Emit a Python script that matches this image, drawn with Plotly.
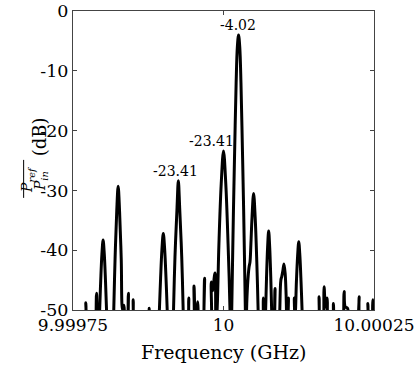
import plotly.graph_objects as go

# spectrum trace, offsets from 10 GHz in kHz, level in dB
freq_khz = [
    -250, -231, -228.7, -226.5, -219, -213.5, -210.9, -208.3,
    -205.7, -204, -202, -200, -198, -196, -194.3, -193, -188.5,
    -183.8, -182.3, -180.1, -177.4, -175, -172.6, -169.9, -167.7,
    -165.5, -163.5, -160.5, -158, -155.5, -152.3, -150, -147.8, -137,
    -125, -123.4, -121.8, -114,
    -107.8, -106.5, -104.5, -102.3, -100, -97.7, -95.5, -93.5, -92.2, -88.5,
    -84.6, -83, -80.6, -77.2, -75, -72.8, -69.4, -67, -65.4,
    -60, -57.7, -55.4, -51.5, -49, -46.3, -42.9, -40.6, -37,
    -34, -31.4, -28.8, -23, -20.3, -18.3, -14.1, -12.6,
    -10.6, -7.6, -3.8, 0, 3.8, 7.6, 10.8, 12.2,
    13.7, 16.5, 18.7, 21, 23, 25, 27, 29, 31.3, 33.5, 36.3, 37.3,
    38.6, 40.5, 42.5, 44, 45.5, 47.4, 50, 52.6, 55.3, 57.5, 59,
    64, 66.2, 68.3,
    70, 71.5, 73.25, 75, 76.75, 78.5, 80, 81.5,
    83.3, 85.6, 88,
    91.5, 93.5, 95.3, 96.8, 98.5, 100.5, 102.5, 104, 105.5,
    107.8, 110, 115.5, 117.7, 119.2,
    121.1, 123.1, 125, 126.9, 128.8, 130.5, 131.6, 140,
    156.5, 158.8, 161, 164.8, 167.1, 169.3, 172, 174.5,
    180.5, 182.6, 184.7, 191,
    197.8, 200.4, 202.3, 206, 207.5, 215,
    223, 225.3, 227.5, 237.5, 239.8, 241.5, 245.8, 248.1, 250,
]
level_db = [
    -60, -58, -48.8, -58, -62, -58, -47.2, -58,
    -50, -45.2, -40.7, -38.3, -40.7, -45.2, -50, -55, -62,
    -56.5, -50, -41.4, -33.6, -29.3, -33.6, -41.4, -50,
    -49.2, -57, -58, -47.2, -58, -58, -48.3, -58, -62,
    -58, -49.7, -58, -62,
    -54, -50, -44.7, -39.9, -37.2, -39.9, -44.7, -50, -54, -62,
    -56.8, -50, -41.1, -32.9, -28.4, -32.9, -41.1, -50, -56.8,
    -58, -48, -58, -58, -46, -55, -48.6, -58, -62,
    -58, -44.7, -58, -58, -45.3, -46.8, -43.8, -53,
    -50, -39, -28.9, -23.4, -28.9, -39, -50, -60,
    -50, -33.5, -22.5, -12, -6, -4, -6, -12, -22.5, -33.5, -50, -56,
    -49, -45, -42.8, -42, -39, -34.5, -30.5, -34.5, -41.9, -50, -57,
    -58, -48, -55,
    -50, -44.5, -39.5, -36.8, -39.5, -44.5, -50, -56,
    -58, -46.4, -58,
    -58, -50, -45, -44.4, -43.5, -42.3, -44, -47.5, -53,
    -48, -58, -58, -48, -50.5,
    -45.3, -41, -38.6, -41, -45.3, -50, -54, -62,
    -58, -47.8, -56, -57, -46.1, -49.5, -48, -57,
    -58, -48.9, -58, -62,
    -58, -46.9, -49.5, -49.7, -58, -62,
    -58, -47.8, -58, -58, -48.9, -56, -58, -48.3, -52,
]

# peak labels
label_text = ["-23.41", "-23.41", "-4.02"]
label_khz = [-75, 0, 25]
label_db = [-28.4, -23.4, -4.0]
label_shift = [-3, -12, -1]

x_ticks = [9.99975, 10, 10.00025]
x_ticktext = ["9.99975", "10", "10.00025"]
y_ticks = [0, -10, -20, -30, -40, -50]
y_ticktext = ["0", "-10", "-20", "-30", "-40", "-50"]

freq_ghz = [10 + k * 1e-6 for k in freq_khz]

serif = "DejaVu Serif, serif"

fig = go.Figure()
fig.add_trace(go.Scatter(x=freq_ghz, y=level_db, mode="lines",
                         line=dict(color="black", width=3, shape="spline"),
                         showlegend=False, hoverinfo="skip"))

for t, k, d, s in zip(label_text, label_khz, label_db, label_shift):
    fig.add_annotation(x=10 + k * 1e-6, y=d, text=t, showarrow=False,
                       xanchor="center", yanchor="bottom", xshift=s, yshift=0,
                       font=dict(family=serif, size=14, color="black"))

# y-axis label: fraction P_ref / P_in (dB), rotated
fig.add_annotation(xref="paper", yref="paper", x=-0.186, y=0.435,
                   text="<i>P<sub>ref</sub></i>", showarrow=False, textangle=-90,
                   font=dict(family=serif, size=14, color="black"))
fig.add_annotation(xref="paper", yref="paper", x=-0.143, y=0.431,
                   text="<i>P<sub>in</sub></i>", showarrow=False, textangle=-90,
                   font=dict(family=serif, size=14, color="black"))
fig.add_shape(type="line", xref="paper", yref="paper",
              x0=-0.164, x1=-0.164, y0=0.375, y1=0.502,
              line=dict(color="black", width=1))
fig.add_annotation(xref="paper", yref="paper", x=-0.153, y=0.579,
                   text="(dB)", showarrow=False, textangle=-90,
                   font=dict(family=serif, size=18, color="black"))

# x-axis title
fig.add_annotation(xref="paper", yref="paper", x=0.5, y=-0.14,
                   text="Frequency (GHz)", showarrow=False,
                   xanchor="center", yanchor="middle",
                   font=dict(family=serif, size=19, color="black"))

fig.update_layout(
    width=415, height=369,
    margin=dict(l=73, r=41, t=11, b=59),
    paper_bgcolor="white", plot_bgcolor="white",
    font=dict(family=serif, size=17, color="black"),
    xaxis=dict(range=[9.99975, 10.00025], tickvals=x_ticks, ticktext=x_ticktext,
               ticks="inside", ticklen=4, tickcolor="#444", showgrid=False,
               zeroline=False, showline=True, linecolor="#444", linewidth=1,
               mirror="ticks", automargin=False, ticklabeloverflow="allow",
               tickfont=dict(size=17)),
    yaxis=dict(range=[-50, 0], tickvals=y_ticks, ticktext=y_ticktext,
               ticks="inside", ticklen=4, tickcolor="#444", showgrid=False,
               zeroline=False, showline=True, linecolor="#444", linewidth=1,
               mirror="ticks", automargin=False, ticklabeloverflow="allow",
               tickfont=dict(size=17.5)),
)

# drop the default body margin so the figure sits at the page corner
fig.write_html("out.html", config={"displayModeBar": False},
               post_script="document.body.style.margin = '0';")
